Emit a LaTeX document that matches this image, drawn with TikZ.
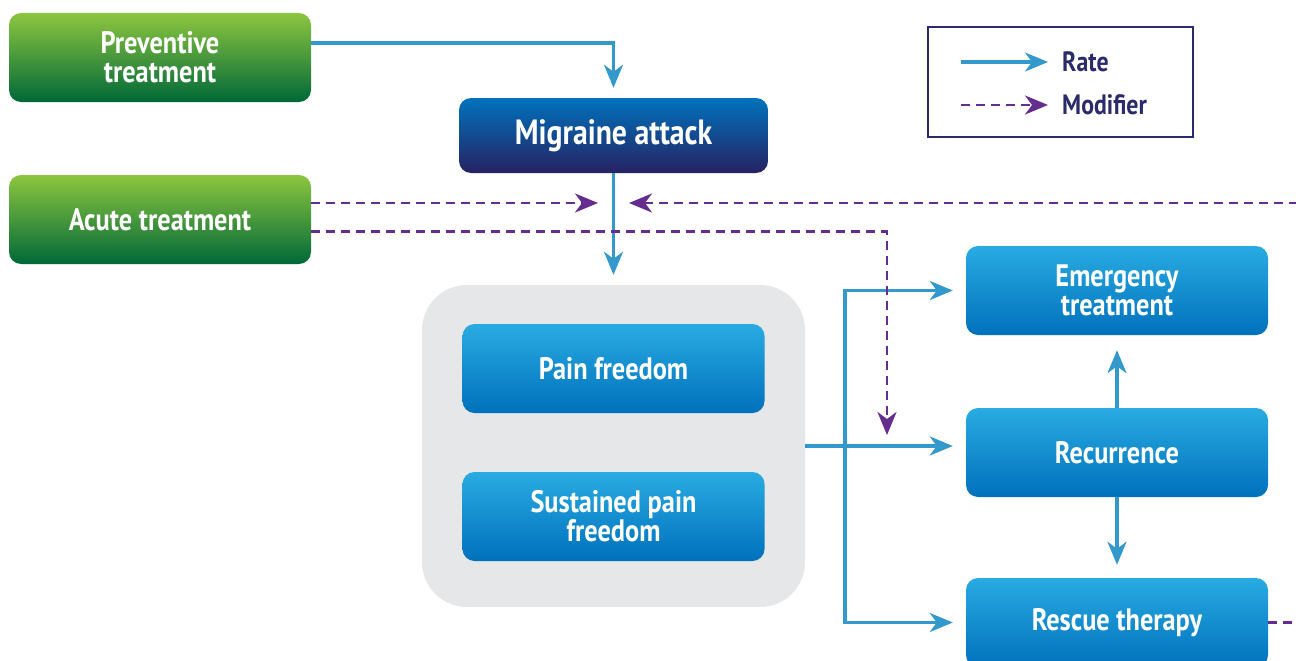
\documentclass[tikz,border=0pt]{standalone}
\usepackage{fontspec}
\setmainfont{PT Sans}[FakeStretch=0.85]
\usetikzlibrary{arrows.meta}

\definecolor{greentop}{HTML}{8DC63F}
\definecolor{greenbot}{HTML}{006838}
\definecolor{bluetop}{HTML}{29ABE2}
\definecolor{bluebot}{HTML}{0071BC}
\definecolor{navytop}{HTML}{0072BC}
\definecolor{navybot}{HTML}{262262}
\definecolor{rateblue}{HTML}{3399CC}
\definecolor{modpurple}{HTML}{662D91}
\definecolor{groupgray}{HTML}{E6E7E8}
\definecolor{legnavy}{HTML}{2B2A6B}

\tikzset{
  box/.style={rounded corners=12pt, minimum width=302pt, minimum height=89pt,
    inner sep=0pt, align=center, text=white,
    font=\bfseries\fontsize{31}{29}\selectfont},
  greenbox/.style={box, top color=greentop, bottom color=greenbot},
  bluebox/.style={box, top color=bluetop, bottom color=bluebot},
  rate/.style={rateblue, line width=3.2pt,
    -{Stealth[length=23pt,width=19pt,inset=7pt]}},
  modif/.style={modpurple, line width=2.8pt, dash pattern=on 9pt off 6pt,
    -{Stealth[length=23pt,width=19pt,inset=7pt]}},
  legtext/.style={anchor=west, inner sep=0pt, text=legnavy,
    font=\bfseries\fontsize{28}{30}\selectfont}
}

\begin{document}
\begin{tikzpicture}[x=1pt,y=-1pt]
  \useasboundingbox (0,0) rectangle (1296,661);

  % treatments
  \node[greenbox] (prev)  at (160,57.5)  {Preventive\\treatment};
  \node[greenbox] (acute) at (160,219.5) {Acute treatment};

  \node[box, minimum width=309pt, minimum height=75pt,
        top color=navytop, bottom color=navybot,
        font=\bfseries\fontsize{35}{37}\selectfont] (mig) at (613.5,135.5) {Migraine attack};

  % grey group with the two outcomes
  \node[fill=groupgray, rounded corners=45pt, minimum width=383pt,
        minimum height=322pt, inner sep=0pt] (grp) at (613.5,446) {};
  \node[bluebox] (pain) at (613.5,368.5) {Pain freedom};
  \node[bluebox] (sust) at (613.5,516.5) {Sustained pain\\freedom};

  % right column
  \node[bluebox] (emer) at (1117,290.5) {Emergency\\treatment};
  \node[bluebox] (rec)  at (1117,452.5) {Recurrence};
  \node[bluebox] (resc) at (1117,622.5) {Rescue therapy};

  % legend
  \node[draw=legnavy, line width=2pt, minimum width=265pt,
        minimum height=110pt, inner sep=0pt] (leg) at (1060.5,82) {};
  \node[legtext] (rateL) at (1062,62)  {Rate};
  \node[legtext] (modL)  at (1062,105) {Modifier};
  \draw[rate]  ([xshift=-101pt]rateL.west) -- ([xshift=-14pt]rateL.west);
  \draw[modif] ([xshift=-101pt]modL.west)  -- ([xshift=-14pt]modL.west);

  % free ends of the modifiers
  \coordinate (meetL) at (598,203);
  \coordinate (meetR) at (629,203);
  \coordinate (modpt) at (887,435);
  \coordinate (split) at (845,446);

  % rates
  \draw[rate] ([yshift=14.5pt]prev.east) -| ([yshift=10pt]mig.north);
  \draw[rate] (mig.south) -- ([yshift=10pt]grp.north);
  \draw[rate, shorten >=13pt] (grp.east) -- (grp.east -| rec.west);
  \draw[rate] (split) |- ([xshift=-13pt]emer.west);
  \draw[rate] (split) |- ([xshift=-13pt]resc.west);
  \draw[rate] (rec.north) -- ([yshift=-15pt]emer.south);
  \draw[rate] (rec.south) -- ([yshift=13pt]resc.north);

  % modifiers
  \draw[modif] ([yshift=16.5pt]acute.east) -- (meetL);
  \draw[modif] (resc.east) -- ++(60,0) |- (meetR);
  \draw[modif] ([yshift=-12pt]acute.east) -| (modpt);
\end{tikzpicture}
\end{document}
